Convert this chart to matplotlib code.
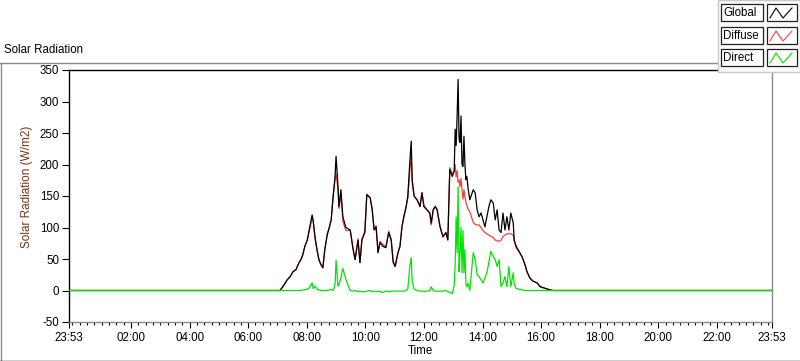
import matplotlib
matplotlib.use("Agg")
import matplotlib.pyplot as plt
from matplotlib.patches import Rectangle
from matplotlib.lines import Line2D
from matplotlib.ticker import FixedLocator

plt.rcParams['font.family'] = ['Liberation Sans', 'DejaVu Sans']
plt.rcParams['font.size'] = 8

# ---------------- data ----------------
# time in minutes since midnight (chart runs 23:53 previous day -> 23:53)
minutes = [-7, 415, 425, 431, 440, 446, 452, 458, 464, 468,
           472, 476, 481, 485, 489, 491, 493, 497, 501, 505,
           509, 513, 517, 522, 526, 530, 534, 538, 540, 544,
           546, 550, 554, 560, 569, 575, 579, 585, 589, 593,
           599, 603, 610, 614, 618, 622, 626, 630, 636, 642,
           648, 653, 657, 661, 667, 671, 675, 679, 683, 687,
           691, 694, 696, 700, 706, 712, 716, 720, 726, 732,
           735, 739, 743, 747, 753, 759, 765, 769, 773, 778,
           782, 784, 786, 788, 790, 792, 794, 796, 798, 800,
           802, 804, 806, 808, 810, 814, 821, 825, 829, 833,
           837, 841, 845, 849, 853, 857, 862, 866, 870, 874,
           878, 882, 886, 890, 894, 898, 903, 905, 909, 915,
           921, 927, 931, 937, 943, 952, 958, 966, 974, 984,
           999, 1433]

global_rad = [0, 0, 0, 6, 17, 22, 30, 33, 44, 49,
              57, 70, 80, 96, 112, 120, 112, 85, 65, 49,
              41, 36, 65, 89, 100, 112, 149, 181, 213, 165,
              133, 160, 117, 100, 96, 65, 49, 80, 44, 80,
              92, 152, 147, 128, 96, 101, 60, 76, 70, 68,
              92, 80, 45, 38, 60, 70, 101, 117, 131, 149,
              203, 237, 176, 150, 144, 133, 155, 133, 128, 123,
              107, 128, 133, 128, 101, 85, 92, 80, 192, 181,
              189, 256, 230, 277, 335, 240, 235, 277, 200, 197,
              245, 200, 176, 181, 165, 144, 160, 155, 128, 117,
              123, 112, 101, 117, 133, 144, 139, 112, 128, 96,
              92, 123, 96, 117, 96, 123, 107, 80, 70, 62,
              54, 41, 30, 20, 15, 12, 6, 4, 2, 0,
              0, 0]

diffuse_rad = [0, 0, 0, 6, 17, 22, 30, 33, 44, 49,
               57, 70, 79, 94, 108, 115, 111, 82, 64, 48,
               41, 36, 65, 89, 99, 111, 149, 176, 185, 160,
               130, 152, 110, 95, 96, 66, 49, 82, 45, 82,
               94, 153, 147, 130, 97, 103, 61, 78, 73, 69,
               94, 81, 46, 39, 61, 71, 102, 118, 131, 147,
               190, 212, 170, 149, 144, 134, 156, 135, 129, 123,
               104, 128, 134, 129, 102, 86, 92, 82, 195, 185,
               190, 200, 180, 190, 172, 175, 165, 178, 160, 145,
               160, 148, 140, 135, 130, 125, 108, 105, 104, 104,
               100, 95, 92, 90, 88, 86, 84, 80, 79, 78,
               80, 86, 88, 90, 90, 90, 88, 78, 68, 61,
               53, 41, 30, 20, 15, 12, 6, 4, 2, 0,
               0, 0]

direct_rad = [0, 0, 0, 0, 0, 0, 0, 0, 0, 0,
              1, 1, 2, 4, 10, 12, 3, 7, 2, 1,
              0, 0, 0, 0, 1, 2, 0, 9, 48, 7,
              9, 20, 35, 18, 0, -1, 0, -2, -1, -2,
              -2, -1, 0, -2, -1, -2, -1, -2, -3, -1,
              -2, -1, -1, -1, -1, -1, -1, -1, 0, 2,
              38, 52, 14, 2, 0, -1, -1, -2, -1, 0,
              6, 0, -1, -1, -1, -1, 0, -2, -3, -5,
              8, 40, 117, 60, 165, 30, 60, 100, 28, 95,
              28, 65, 10, 6, 12, 0, 60, 49, 25, 22,
              17, 12, 20, 28, 45, 62, 54, 49, 38, 49,
              6, 12, 22, 6, 38, 6, 28, 10, 3, 2,
              1, 0, 0, 0, 0, 0, 0, 0, 0, 0,
              0, 0]

series_names = ["Global", "Diffuse", "Direct"]
series_colors = ["#000000", "#ff3c3c", "#00e600"]

x_start, x_end = -7, 1433
x_major = [-7, 120, 240, 360, 480, 600, 720, 840, 960, 1080, 1200, 1320, 1433]
y_ticks = [-50, 0, 50, 100, 150, 200, 250, 300, 350]

# ---------------- figure ----------------
W, H = 800, 361
fig = plt.figure(figsize=(W / 100, H / 100), dpi=100)
fig.patch.set_facecolor("white")

def fx(px):
    return px / W

def fy(py):
    return 1 - py / H

# outer frame
fig.add_artist(Line2D([fx(0), fx(718)], [fy(62.5), fy(62.5)], color="#8a8a8a", lw=1.0))
fig.add_artist(Line2D([fx(0.5), fx(0.5)], [fy(62.5), fy(361)], color="#8a8a8a", lw=1.0))
fig.add_artist(Line2D([fx(0), fx(800)], [fy(360.5), fy(360.5)], color="#000000", lw=1.0))

fig.text(fx(4), fy(50), "Solar Radiation", ha="left", va="center", fontsize=8.3)

ax = fig.add_axes([fx(69), fy(322), 703 / W, 252 / H])
ax.set_facecolor("white")

ax.plot(minutes, diffuse_rad, color=series_colors[1], lw=0.9, zorder=2)
ax.plot(minutes, global_rad, color=series_colors[0], lw=0.9, zorder=3)
ax.plot(minutes, direct_rad, color=series_colors[2], lw=0.9, zorder=4)

ax.set_xlim(x_start, x_end)
ax.set_ylim(-50, 350)

def fmt(m):
    m = m % 1440
    return "%02d:%02d" % (m // 60, m % 60)

ax.xaxis.set_major_locator(FixedLocator(x_major))
ax.set_xticklabels([fmt(m) for m in x_major])
ax.xaxis.set_minor_locator(FixedLocator(list(range(0, 1433, 15))))
ax.set_yticks(y_ticks)
ax.set_yticklabels([str(v) for v in y_ticks])

ax.tick_params(axis="x", which="major", length=4, width=0.8, pad=3, labelsize=8.3, direction="out")
ax.tick_params(axis="x", which="minor", length=2, width=0.8, direction="out")
ax.tick_params(axis="y", which="major", length=5, width=0.8, pad=2, labelsize=8.3, direction="out")

for side in ("left", "top"):
    ax.spines[side].set_color("#000000")
    ax.spines[side].set_linewidth(1.0)
for side in ("right", "bottom"):
    ax.spines[side].set_color("#8a8a8a")
    ax.spines[side].set_linewidth(1.0)

ax.set_ylabel("Solar Radiation (W/m2)", color="#7a3418", fontsize=8.5)
ax.yaxis.set_label_coords((33 - 69) / 703, (322 - 187) / 252)
ax.set_xlabel("Time", fontsize=8.3)
ax.xaxis.set_label_coords(0.5, (322 - 351.5) / 252)
ax.xaxis.label.set_verticalalignment("center")

# ---------------- legend panel ----------------
fig.add_artist(Rectangle((fx(718), fy(72)), (800 - 718) / W, 72 / H,
                         transform=fig.transFigure, facecolor="#fbfbfb",
                         edgecolor="#c8c8c8", lw=1.0, zorder=5))
entry_tops = [4, 27, 49]
for name, col, top in zip(series_names, series_colors, entry_tops):
    bh = 17
    fig.add_artist(Rectangle((fx(721), fy(top + bh)), 42 / W, bh / H,
                             transform=fig.transFigure, facecolor="white",
                             edgecolor="#202020", lw=0.9, zorder=6))
    fig.text(fx(723), fy(top + bh / 2 + 0.5), name, ha="left", va="center",
             fontsize=8.3, zorder=7)
    fig.add_artist(Rectangle((fx(767), fy(top + bh)), 30 / W, bh / H,
                             transform=fig.transFigure, facecolor="white",
                             edgecolor="#202020", lw=0.9, zorder=6))
    zx = [770, 776, 783, 792]
    zy = [top + 14, top + 4, top + 14, top + 4]
    fig.add_artist(Line2D([fx(v) for v in zx], [fy(v) for v in zy],
                          color=col, lw=0.8, zorder=7))

fig.savefig("out.png", dpi=100)
